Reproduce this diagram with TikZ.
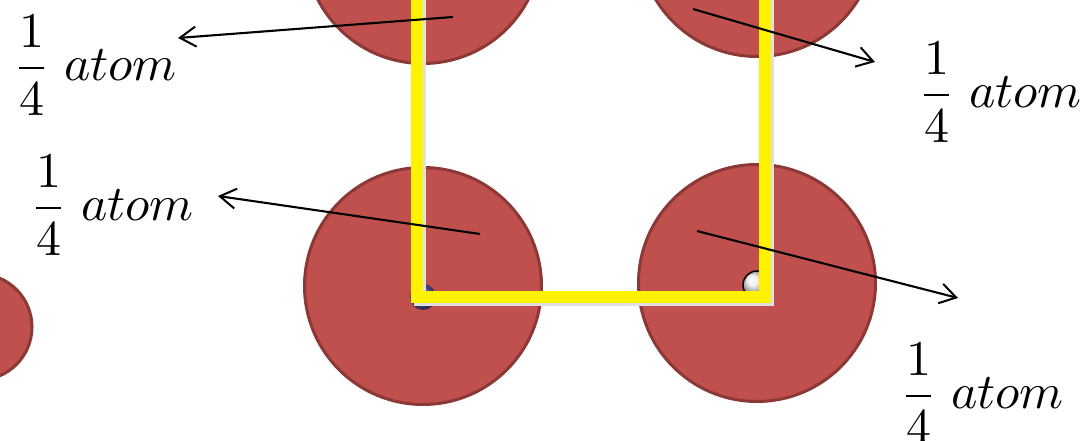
\documentclass[tikz,border=0pt]{standalone}
\usepackage{graphicx}
\usetikzlibrary{arrows.meta}
\definecolor{atomred}{HTML}{C0504D}
\definecolor{atomedge}{HTML}{8C3836}
\definecolor{ballpurple}{RGB}{105,95,185}
\tikzset{
  atomc/.style={circle, fill=atomred, draw=atomedge, line width=3pt, inner sep=0pt, minimum size=#1},
  cellline/.style={yellow, line width=12pt, line cap=butt, line join=miter},
  cellshadow/.style={black!12, line width=12pt, line join=miter},
  pointer/.style={black, line width=2.1pt, -{Straight Barb[length=16pt,width=20pt,line width=2pt]}},
  lbl/.style={anchor=west, inner sep=0pt},
}
\newcommand{\quarteratom}{\scalebox{5}{$\displaystyle\frac{1}{4}\;atom$}}
\begin{document}
\begin{tikzpicture}[x=1pt,y=-1pt]
\useasboundingbox (0,0) rectangle (1088,441);
% atoms
\node[atomc=237pt] (tl) at (423,-55) {};
\node[atomc=237pt] (tr) at (757,-62) {};
\node[atomc=237pt] (bl) at (423,286) {};
\node[atomc=237pt] (br) at (757,283) {};
\node[atomc=106pt] (ll) at (-21,327) {};
% corner spheres
\shade[ball color=ballpurple] (423,297) circle[radius=13];
\shade[ball color=white!85!gray, draw=black, line width=1.5pt] (757,285) circle[radius=14];
% unit cell
\draw[cellshadow] (420,-10) -- (420,300) -- (768,300) -- (768,-10);
\draw[cellline] (417,-10) -- (417,297) -- (765,297) -- (765,-10);
% labels
\node[lbl] (l1) at (13,65) {\quarteratom};
\node[lbl] (l2) at (918,92) {\quarteratom};
\node[lbl] (l3) at (30,205) {\quarteratom};
\node[lbl] (l4) at (900,393) {\quarteratom};
% pointers
\coordinate (s1) at (453,17);  \coordinate (e1) at (178,38);
\coordinate (s2) at (693,9);   \coordinate (e2) at (875,62);
\coordinate (s3) at (480,234); \coordinate (e3) at (218,196);
\coordinate (s4) at (697,231); \coordinate (e4) at (958,298);
\draw[pointer] (s1) -- (e1);
\draw[pointer] (s2) -- (e2);
\draw[pointer] (s3) -- (e3);
\draw[pointer] (s4) -- (e4);
\end{tikzpicture}
\end{document}
